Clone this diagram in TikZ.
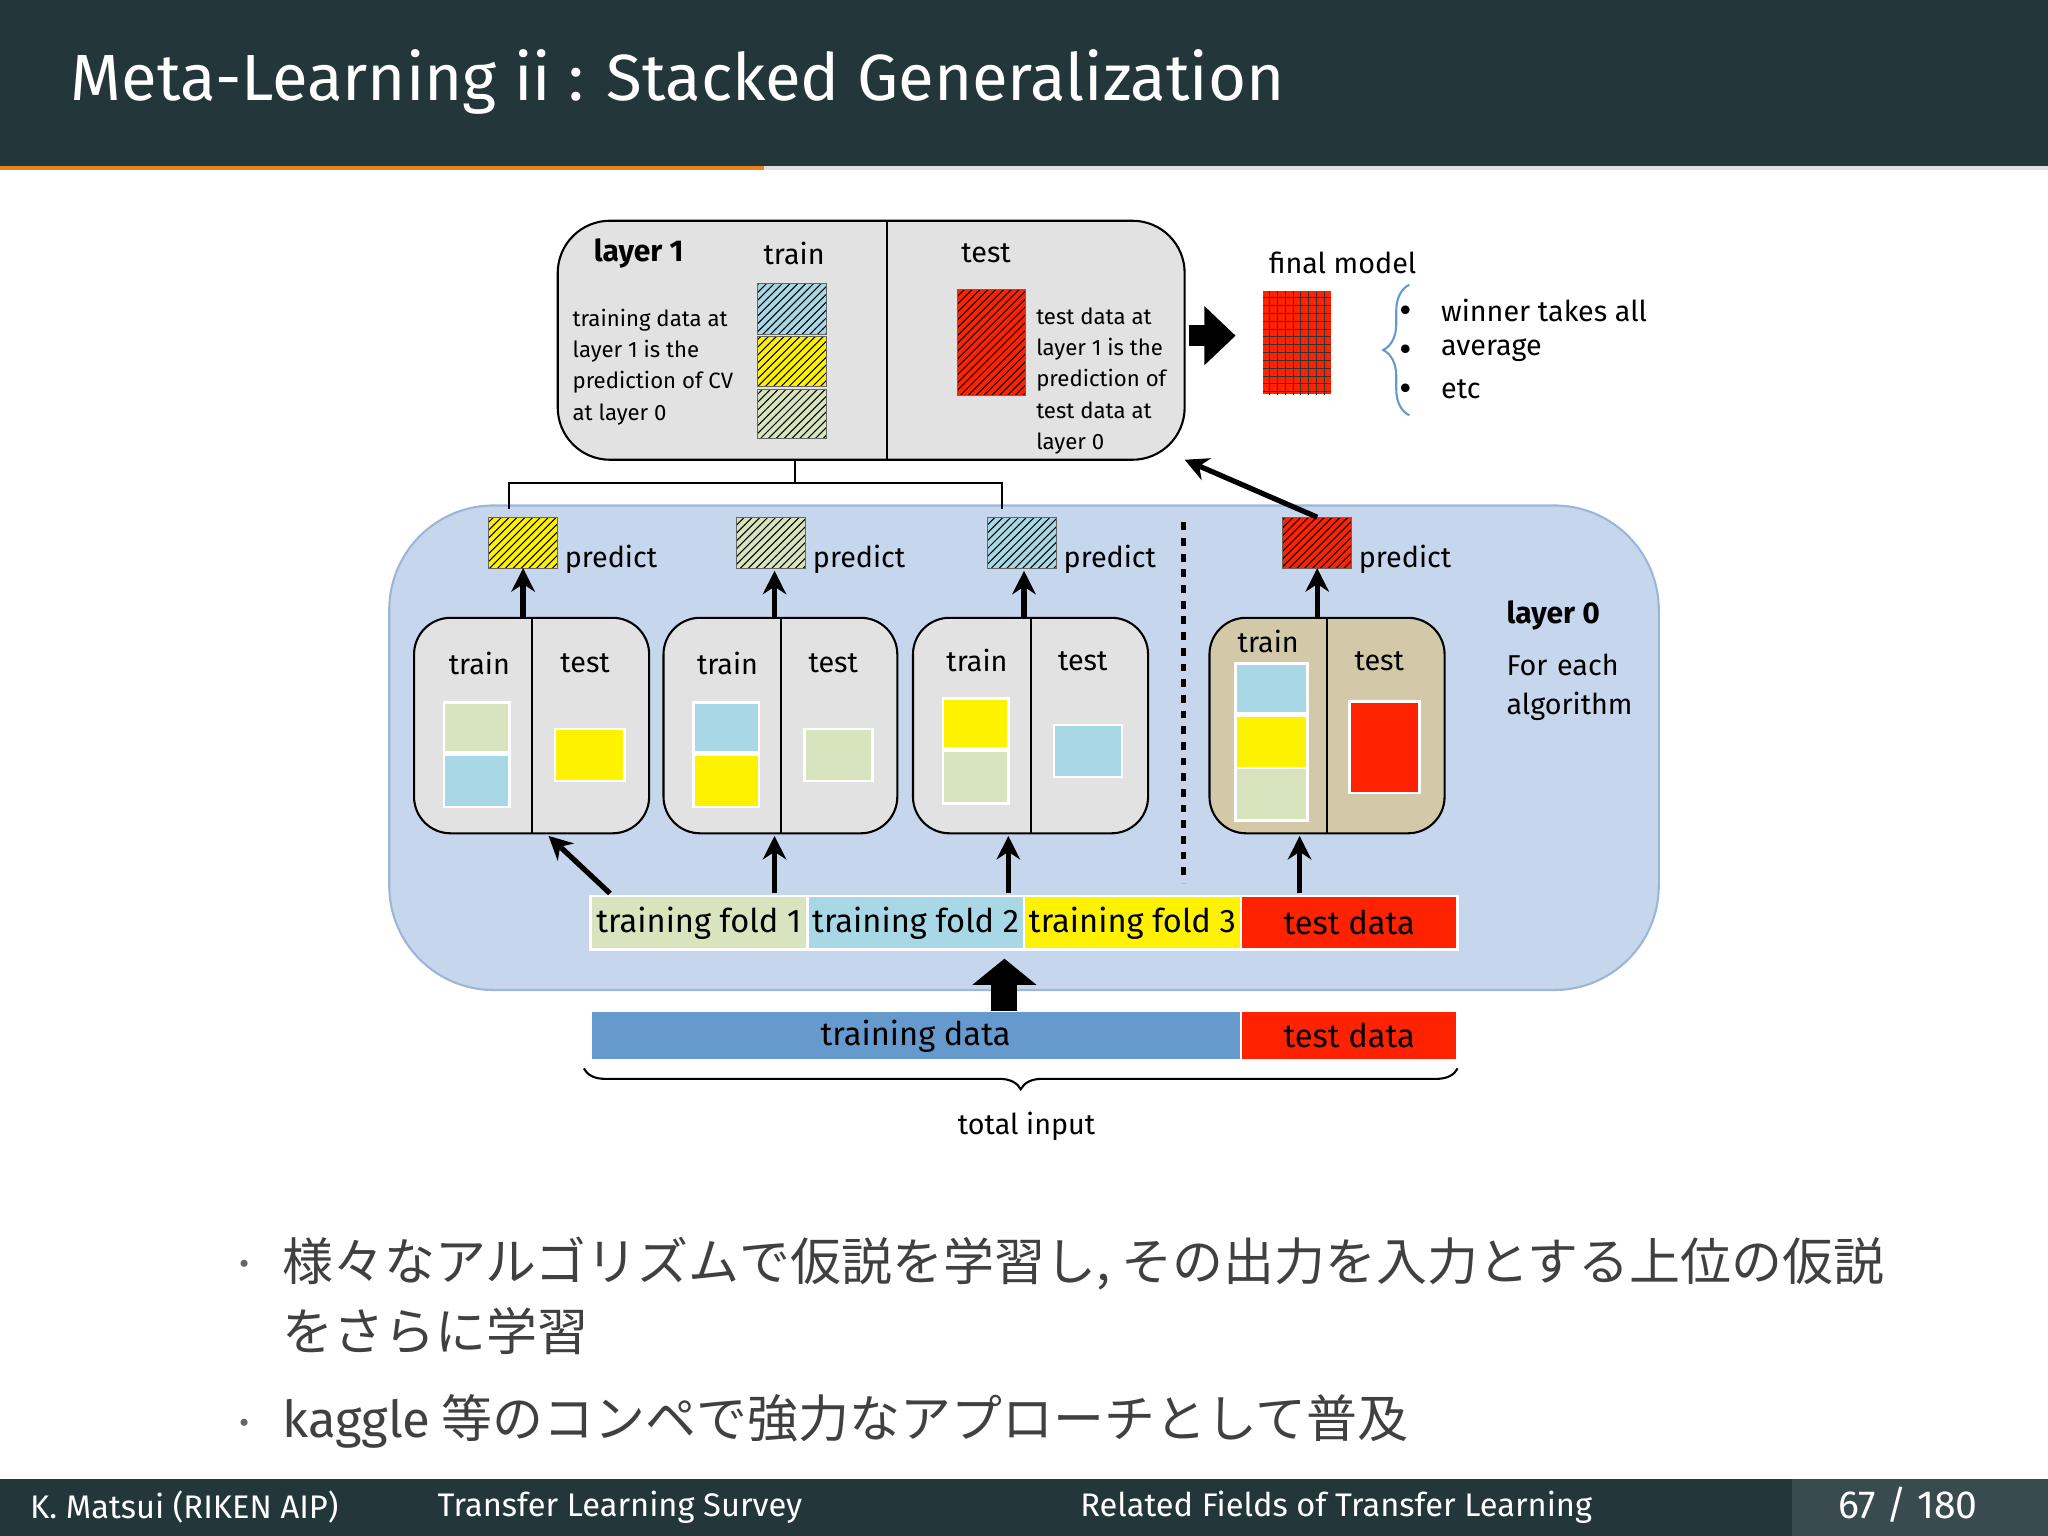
\documentclass[tikz,border=0pt]{standalone}
\usepackage{fontspec}
\setmainfont{Fira Sans}
\newfontfamily\jp{Noto Sans CJK JP}
\usetikzlibrary{fit,patterns,decorations.pathreplacing,arrows.meta}
\definecolor{bar}{HTML}{23373B}
\definecolor{accent}{HTML}{EB811B}
\definecolor{cvgreen}{HTML}{D7E4BD}
\definecolor{cvblue}{HTML}{A8D8E6}
\definecolor{cvred}{HTML}{FF2200}
\definecolor{boxgray}{HTML}{E3E2E3}
\definecolor{lzero}{HTML}{C6D6EC}
\definecolor{lzeroline}{HTML}{9DB5D6}
\definecolor{tan}{HTML}{D3C9A8}
\definecolor{tdata}{HTML}{6699CC}
\tikzset{
  sq/.style={draw=white, line width=1pt},
  hatch/.style={draw=black!60, pattern=north east lines},
  cvbox/.style={draw=black, rounded corners=14, thick},
  up/.style={-{Stealth[length=9,width=9]}, line width=2pt},
  lbl/.style={font=\fontsize{11}{12}\selectfont, inner sep=0pt},
  small/.style={font=\fontsize{8.5}{12}\selectfont, align=left, inner sep=0pt},
}
% a box from corner to corner, named
\newcommand{\sqbox}[6]{\node[inner sep=0pt, outer sep=0pt, fit={(#2,#3)(#4,#5)}, #6] (#1) {};}
\begin{document}
\begin{tikzpicture}[x=0.5pt, y=-0.5pt]
  \useasboundingbox (0,0) rectangle (1568,1176);
  % title and footer bars
  \fill[bar] (0,0) rectangle (1568,127);
  \fill[accent] (0,127) rectangle (585,130);
  \fill[black!12] (585,127) rectangle (1568,130);
  \node[anchor=west, text=white, font=\fontsize{25}{30}\selectfont] (title) at (47,63) {Meta-Learning ii : Stacked Generalization};
  \fill[bar] (0,1132) rectangle (1372,1176);
  \fill[bar!90!white] (1372,1132) rectangle (1568,1176);
  \node[anchor=west, text=white, font=\fontsize{12.5}{14}\selectfont] (fa) at (16,1154) {K. Matsui (RIKEN AIP)};
  \node[anchor=west, text=white, font=\fontsize{12.5}{14}\selectfont] (fb) at (328,1154) {Transfer Learning Survey};
  \node[anchor=west, text=white, font=\fontsize{12.5}{14}\selectfont] (fc) at (820,1154) {Related Fields of Transfer Learning};
  \node[text=white, font=\fontsize{15}{16}\selectfont] (fd) at (1461,1152) {67 / 180};

  % layer 0 background
  \sqbox{lzerobg}{298}{387}{1270}{758}{draw=lzeroline, fill=lzero, rounded corners=40, thick}
  \draw[dashed, line width=1.8pt] (906,400) -- (906,676);
  \node[anchor=west, lbl, font=\fontsize{11.5}{12}\selectfont\bfseries] (lzero) at (1153,471) {layer 0};
  \node[anchor=north west, lbl, align=left, text width=60] (each) at (1153,500) {For each\\[3pt] algorithm};

  % layer 1 box
  \sqbox{lone}{427}{169}{907}{352}{cvbox, fill=boxgray, rounded corners=20}
  \draw[thick] (679,169) -- (679,352);
  \node[lbl, font=\fontsize{11.5}{12}\selectfont\bfseries] (lonet) at (489,194) {layer 1};
  \node[lbl] (lonetr) at (608,194) {train};
  \node[lbl] (lonete) at (755,194) {test};
  \fill[cvblue] (580,217) rectangle (633,256);
  \sqbox{ha}{580}{217}{633}{256}{hatch}
  \fill[yellow] (580,258) rectangle (633,296);
  \sqbox{hb}{580}{258}{633}{296}{hatch}
  \fill[cvgreen] (580,298) rectangle (633,336);
  \sqbox{hc}{580}{298}{633}{336}{hatch}
  \fill[cvred] (733,222) rectangle (785,303);
  \sqbox{hd}{733}{222}{785}{303}{hatch}
  \node[anchor=north west, small] (ltrain) at (438,236) {training data at\\layer 1 is the\\prediction of CV\\at layer 0};
  \node[anchor=north west, small] (ltest) at (793,235) {test data at\\layer 1 is the\\prediction of\\test data at\\layer 0};

  % final model
  \draw[-{Triangle[length=12,width=22]}, line width=8pt] (910,257) -- (946,257);
  \node[lbl] (fmt) at (1028,201) {final model};
  \fill[cvred] (967,223) rectangle (1019,302);
  \sqbox{fm}{967}{223}{1019}{302}{pattern=grid, pattern color=black!80}
  \draw[decorate, decoration={brace, amplitude=10pt}, thick, draw=tdata] (1079,318) -- (1079,218);
  \foreach \y/\t in {238/winner takes all, 268/average, 298/etc} {
    \node[lbl, font=\fontsize{8}{8}\selectfont] at (1076,\y) {$\bullet$};
    \node[anchor=west, lbl] at (1103,\y) {\t};
  }

  % layer 0 CV boxes: name/left/divider/right/colour
  \foreach \n/\a/\d/\b/\c in {cva/317/407/497/boxgray, cvb/508/598/687/boxgray, cvc/699/789/879/boxgray, cvd/926/1016/1106/tan} {
    \sqbox{\n}{\a}{473}{\b}{638}{cvbox, fill=\c}
    \draw[thick] (\d,473) -- (\d,638);
  }
  \foreach \x/\y/\t in {367/508/train, 448/508/test, 557/508/train, 638/508/test, 748/506/train, 829/506/test, 971/491/train, 1056/506/test}
    \node[lbl] at (\x,\y) {\t};
  \sqbox{a1}{340}{538}{390}{576}{sq, fill=cvgreen}
  \sqbox{a2}{340}{578}{390}{618}{sq, fill=cvblue}
  \sqbox{a3}{425}{558}{478}{598}{sq, fill=yellow}
  \sqbox{b1}{531}{538}{581}{576}{sq, fill=cvblue}
  \sqbox{b2}{531}{578}{581}{618}{sq, fill=yellow}
  \sqbox{b3}{616}{558}{668}{598}{sq, fill=cvgreen}
  \sqbox{c1}{722}{535}{772}{573}{sq, fill=yellow}
  \sqbox{c2}{722}{575}{772}{615}{sq, fill=cvgreen}
  \sqbox{c3}{807}{555}{859}{595}{sq, fill=cvblue}
  \sqbox{d1}{946}{508}{1001}{546}{sq, fill=cvblue}
  \sqbox{d2}{946}{548}{1001}{588}{sq, fill=yellow}
  \sqbox{d3}{946}{588}{1001}{628}{sq, fill=cvgreen}
  \sqbox{d4}{1033}{537}{1087}{607}{sq, fill=cvred}

  % predictions
  \foreach \n/\x/\c in {pa/374/yellow, pb/564/cvgreen, pc/756/cvblue, pd/982/cvred} {
    \fill[\c] (\x,396) rectangle ({\x+53},435);
    \sqbox{\n}{\x}{396}{\x+53}{435}{hatch}
    \node[anchor=west, lbl] at ({\x+58},428) {predict};
  }
  \draw[up] (cva.north -| pa.south) -- (pa.south);
  \draw[up] (cvb.north -| {(593,0)}) -- (593,437);
  \draw[up] (cvc.north -| {(784,0)}) -- (784,437);
  \draw[up] (cvd.north -| pd.south) -- (pd.south);
  \draw[up] (pd.north) -- (lone.south east);

  % bracket collecting predictions
  \draw[thick] (390,390) -- (390,370) -- (767,370) -- (767,390);
  \draw[thick] (609,370) -- (609,352);

  % folds
  \sqbox{fa1}{452}{686}{618}{727}{sq, fill=cvgreen}
  \sqbox{fa2}{618}{686}{784}{727}{sq, fill=cvblue}
  \sqbox{fa3}{784}{686}{950}{727}{sq, fill=yellow}
  \sqbox{fa4}{950}{686}{1116}{727}{sq, fill=cvred}
  \node[lbl, font=\fontsize{12.5}{13}\selectfont] at (fa1) {training fold 1};
  \node[lbl, font=\fontsize{12.5}{13}\selectfont] at (fa2) {training fold 2};
  \node[lbl, font=\fontsize{12.5}{13}\selectfont] at (fa3) {training fold 3};
  \node[lbl, font=\fontsize{12.5}{13}\selectfont] at (fa4) {test data};
  \draw[up] (467,684) -- (420,640);
  \draw[up] (593,684) -- (593,640);
  \draw[up] (772,684) -- (772,640);
  \draw[up] (995,684) -- (995,640);

  % total input
  \sqbox{tr}{452}{774}{950}{812}{sq, fill=tdata}
  \sqbox{te}{950}{774}{1116}{812}{sq, fill=cvred}
  \node[lbl, font=\fontsize{12.5}{13}\selectfont] at (tr) {training data};
  \node[lbl, font=\fontsize{12.5}{13}\selectfont] at (te) {test data};
  \draw[-{Triangle[length=10,width=24]}, line width=10pt] (tr.north -| {(769,0)}) -- (769,734);
  \draw[decorate, decoration={brace, amplitude=8pt, mirror}, thick] (447,818) -- (1116,818);
  \node[lbl] (total) at (786,862) {total input};

  % bullets
  \node[text=black!60, font=\fontsize{12}{14}\selectfont] at (187,970) {•};
  \node[anchor=west, text=black!75, font=\jp\fontsize{19.5}{27}\selectfont, align=left, inner sep=0pt] at (216,992) {様々なアルゴリズムで仮説を学習し, その出力を入力とする上位の仮説\\をさらに学習};
  \node[text=black!60, font=\fontsize{12}{14}\selectfont] at (187,1092) {•};
  \node[anchor=west, text=black!75, font=\jp\fontsize{19.5}{27}\selectfont, inner sep=0pt] at (216,1088) {{\fontspec{Fira Sans}kaggle} 等のコンペで強力なアプローチとして普及};
\end{tikzpicture}
\end{document}
